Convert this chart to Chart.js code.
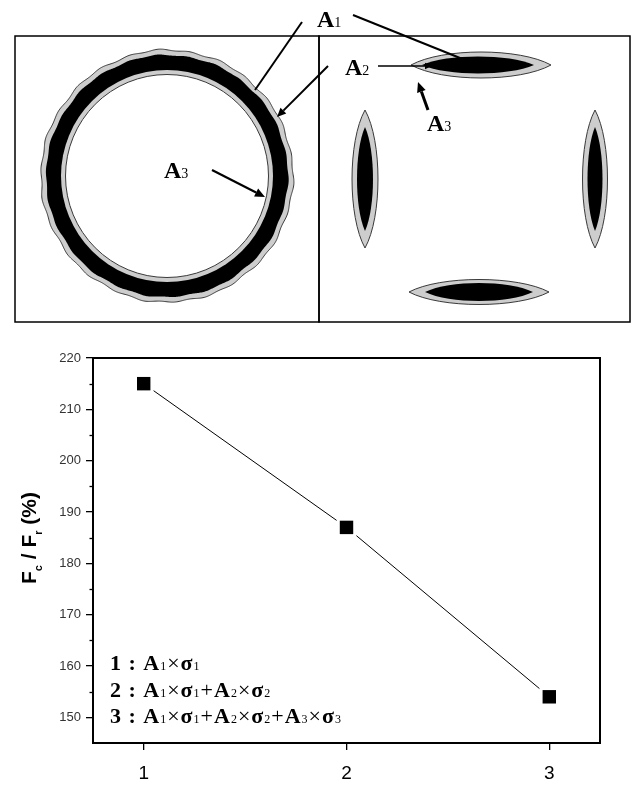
<!DOCTYPE html>
<html>
<head>
<meta charset="utf-8">
<script src="https://cdn.jsdelivr.net/npm/chart.js@4.4.1/dist/chart.umd.min.js"></script>
<style>
  html, body { margin: 0; padding: 0; background: #fff; }
  #wrap { position: relative; width: 633px; height: 785px; }
  #top { position: absolute; left: 0; top: 0; }
  #bottom { position: absolute; left: 0; top: 330px; }
</style>
</head>
<body>
<div id="wrap">
  <canvas id="top" width="633" height="330"></canvas>
  <canvas id="bottom" width="633" height="455"></canvas>
</div>
<script>
// ---------------- data ----------------
const categories = [1, 2, 3];
const ratioValues = [215, 187, 154];
const xTickValues = [1, 2, 3];
const yTickValues = [150, 160, 170, 180, 190, 200, 210, 220];
const yMinorTickValues = [155, 165, 175, 185, 195, 205, 215];
const legendRows = [
  ['1', [['A', '1', 'σ', '1']]],
  ['2', [['A', '1', 'σ', '1'], ['A', '2', 'σ', '2']]],
  ['3', [['A', '1', 'σ', '1'], ['A', '2', 'σ', '2'], ['A', '3', 'σ', '3']]]
];

const SERIF = '"Liberation Serif", "DejaVu Serif", serif';
const SANS = '"Liberation Sans", Arial, sans-serif';

// draw a sequence of text runs: [text, font, dy]
function drawRuns(ctx, runs, x, y) {
  let cx = x;
  for (const [t, f, dy] of runs) {
    ctx.font = f;
    ctx.fillText(t, cx, y + (dy || 0));
    cx += ctx.measureText(t).width;
  }
  return cx;
}
function runsWidth(ctx, runs) {
  let w = 0;
  for (const [t, f] of runs) { ctx.font = f; w += ctx.measureText(t).width; }
  return w;
}

// ---------------- top illustration ----------------
const illustrationPlugin = {
  id: 'illustration',
  beforeDatasetsDraw(chart) {
    const ctx = chart.ctx;
    const sx = chart.scales.x, sy = chart.scales.y;
    const X = v => sx.getPixelForValue(v);
    const Y = v => sy.getPixelForValue(v);
    const L = v => X(v) - X(0);
    const GRAY = '#cdcdcd', EDGE = '#3a3a3a';
    ctx.save();
    ctx.fillStyle = '#fff';
    ctx.fillRect(0, 0, chart.width, chart.height);

    // panels
    ctx.strokeStyle = '#000';
    ctx.lineWidth = 1.5;
    ctx.strokeRect(X(15), Y(36), L(304), L(286));
    ctx.strokeRect(X(319), Y(36), L(311), L(286));

    // ring
    const rcx = X(167), rcy = Y(176);
    function wavy(r0, amp, phase) {
      ctx.beginPath();
      for (let i = 0; i <= 720; i++) {
        const a = i / 720 * Math.PI * 2;
        const r = L(r0) + amp * Math.sin(a * 26 + phase) + amp * 0.6 * Math.sin(a * 11 + 1 + phase);
        const px = rcx + r * Math.cos(a), py = rcy + r * Math.sin(a);
        if (i === 0) ctx.moveTo(px, py); else ctx.lineTo(px, py);
      }
      ctx.closePath();
    }
    wavy(126, 0.7, 0);
    ctx.fillStyle = GRAY; ctx.fill();
    ctx.strokeStyle = EDGE; ctx.lineWidth = 1; ctx.stroke();
    wavy(121, 0.5, 0.4);
    ctx.fillStyle = '#000'; ctx.fill();
    ctx.beginPath(); ctx.arc(rcx, rcy, L(106), 0, Math.PI * 2);
    ctx.fillStyle = GRAY; ctx.fill();
    ctx.beginPath(); ctx.arc(rcx, rcy, L(101.5), 0, Math.PI * 2);
    ctx.fillStyle = '#fff'; ctx.fill();
    ctx.strokeStyle = EDGE; ctx.lineWidth = 1; ctx.stroke();

    // lens shapes
    function lens(cx, cy, a, b, horiz) {
      const k = 0.55, m = 1.333;
      ctx.beginPath();
      if (horiz) {
        ctx.moveTo(X(cx - a), Y(cy));
        ctx.bezierCurveTo(X(cx - a * k), Y(cy - b * m), X(cx + a * k), Y(cy - b * m), X(cx + a), Y(cy));
        ctx.bezierCurveTo(X(cx + a * k), Y(cy + b * m), X(cx - a * k), Y(cy + b * m), X(cx - a), Y(cy));
      } else {
        ctx.moveTo(X(cx), Y(cy - a));
        ctx.bezierCurveTo(X(cx + b * m), Y(cy - a * k), X(cx + b * m), Y(cy + a * k), X(cx), Y(cy + a));
        ctx.bezierCurveTo(X(cx - b * m), Y(cy + a * k), X(cx - b * m), Y(cy - a * k), X(cx), Y(cy - a));
      }
      ctx.closePath();
    }
    const lenses = [
      [481, 65, 70, 13, 478, 56, 8.5, true],
      [479, 292, 70, 12.5, 479, 54, 9, true],
      [365, 179, 69, 13, 365, 52, 8, false],
      [595, 179, 69, 12.5, 595, 52, 7.5, false]
    ];
    for (const [cx, cy, a, b, icx, ia, ib, h] of lenses) {
      lens(cx, cy, a, b, h);
      ctx.fillStyle = GRAY; ctx.fill();
      ctx.strokeStyle = EDGE; ctx.lineWidth = 1; ctx.stroke();
      lens(icx, cy, ia, ib, h);
      ctx.fillStyle = '#000'; ctx.fill();
    }

    // pointer lines and arrows
    function line(x1, y1, x2, y2, w) {
      ctx.beginPath(); ctx.moveTo(X(x1), Y(y1)); ctx.lineTo(X(x2), Y(y2));
      ctx.strokeStyle = '#000'; ctx.lineWidth = w; ctx.stroke();
    }
    function arrow(x1, y1, x2, y2, w, head) {
      const ang = Math.atan2(y2 - y1, x2 - x1);
      const bx = x2 - head * Math.cos(ang), by = y2 - head * Math.sin(ang);
      line(x1, y1, bx, by, w);
      ctx.beginPath();
      ctx.moveTo(X(x2), Y(y2));
      ctx.lineTo(X(bx + head * 0.45 * Math.sin(ang)), Y(by - head * 0.45 * Math.cos(ang)));
      ctx.lineTo(X(bx - head * 0.45 * Math.sin(ang)), Y(by + head * 0.45 * Math.cos(ang)));
      ctx.closePath(); ctx.fillStyle = '#000'; ctx.fill();
    }
    line(302, 22, 255, 90, 2);
    line(353, 15, 465, 60, 2);
    arrow(328, 66, 277, 117, 2, 9);
    arrow(378, 66, 432, 66, 1.6, 7);
    arrow(212, 170, 265, 197, 2.2, 10);
    arrow(428, 110, 418, 82, 3, 10);

    // labels
    ctx.fillStyle = '#000';
    ctx.textBaseline = 'alphabetic';
    ctx.textAlign = 'left';
    const big = 'bold 24px ' + SERIF, sub = '14px ' + SERIF;
    drawRuns(ctx, [['A', big], ['1', sub]], X(317), Y(27));
    drawRuns(ctx, [['A', big], ['2', sub]], X(345), Y(75));
    drawRuns(ctx, [['A', big], ['3', sub]], X(164), Y(178));
    drawRuns(ctx, [['A', big], ['3', sub]], X(427), Y(131));
    ctx.restore();
  }
};

new Chart(document.getElementById('top'), {
  type: 'scatter',
  data: { datasets: [] },
  options: {
    responsive: false, animation: false, events: [],
    layout: { padding: 0 },
    plugins: { legend: { display: false }, tooltip: { enabled: false } },
    scales: {
      x: { type: 'linear', min: 0, max: 633, display: false },
      y: { type: 'linear', min: 0, max: 330, reverse: true, display: false }
    }
  },
  plugins: [illustrationPlugin]
});

// ---------------- bottom chart ----------------
const points = categories.map((c, i) => ({ x: c, y: ratioValues[i] }));

const framePlugin = {
  id: 'frame',
  afterDraw(chart) {
    const ctx = chart.ctx, a = chart.chartArea;
    const ys = chart.scales.y;
    ctx.save();
    ctx.strokeStyle = '#000';
    ctx.lineWidth = 2;
    ctx.strokeRect(a.left, a.top, a.right - a.left, a.bottom - a.top);
    // minor ticks
    ctx.lineWidth = 1.3;
    for (const v of yMinorTickValues) {
      const py = Math.round(ys.getPixelForValue(v)) + 0.5;
      ctx.beginPath(); ctx.moveTo(a.left - 3.5, py); ctx.lineTo(a.left, py); ctx.stroke();
    }
    // y title with subscripts
    ctx.fillStyle = '#000';
    ctx.textBaseline = 'alphabetic';
    const fb = 'bold 21px ' + SANS, fs = 'bold 11px ' + SANS;
    const runs = [['F', fb], ['c', fs, 6], [' / ', fb], ['F', fb], ['r', fs, 6], [' (%)', fb]];
    const w = runsWidth(ctx, runs);
    ctx.translate(36, 208);
    ctx.rotate(-Math.PI / 2);
    drawRuns(ctx, runs, -w / 2, 0);
    ctx.restore();

    // formula legend
    ctx.save();
    ctx.fillStyle = '#000';
    ctx.textBaseline = 'alphabetic';
    try { ctx.letterSpacing = '1px'; } catch (e) {}
    const lb = 'bold 22px ' + SERIF, ls = '12px ' + SERIF, ln = '22px ' + SERIF, lsb = 'bold 22px ' + SERIF;
    const baselines = [340, 367, 393];
    legendRows.forEach(([num, terms], r) => {
      const runs = [[num + ' : ', lb]];
      terms.forEach((t, k) => {
        if (k > 0) runs.push(['+', ln]);
        runs.push([t[0], lsb], [t[1], ls], ['×', ln], [t[2], lsb], [t[3], ls]);
      });
      drawRuns(ctx, runs, 110, baselines[r]);
    });
    ctx.restore();
  }
};

new Chart(document.getElementById('bottom'), {
  type: 'scatter',
  data: {
    datasets: [
      { data: points, showLine: true, borderColor: '#000', borderWidth: 1, pointRadius: 0, order: 3 },
      { data: points, showLine: false, pointStyle: 'rect', pointRadius: 14, backgroundColor: '#fff', borderWidth: 0, order: 2 },
      { data: points, showLine: false, pointStyle: 'rect', pointRadius: 9.5, backgroundColor: '#000', borderWidth: 0, order: 1 }
    ]
  },
  options: {
    responsive: false, animation: false, events: [],
    layout: { padding: { top: 28, right: 33, left: 0, bottom: 0 } },
    plugins: { legend: { display: false }, tooltip: { enabled: false } },
    scales: {
      x: {
        type: 'linear', min: 0.75, max: 3.25,
        afterBuildTicks: s => { s.ticks = xTickValues.map(v => ({ value: v })); },
        afterFit: s => { s.height = 42; },
        border: { display: false },
        grid: { drawOnChartArea: false, drawTicks: true, tickLength: 7, color: '#000', lineWidth: 1.3 },
        ticks: { color: '#000', font: { family: SANS, size: 19 }, padding: 12, callback: v => String(v) }
      },
      y: {
        type: 'linear', min: 145, max: 220,
        afterBuildTicks: s => { s.ticks = yTickValues.map(v => ({ value: v })); },
        afterFit: s => { s.width = 93; },
        border: { display: false },
        grid: { drawOnChartArea: false, drawTicks: true, tickLength: 7, color: '#000', lineWidth: 1.3 },
        ticks: { color: '#333', font: { family: SANS, size: 13 }, padding: 5, callback: v => String(v) }
      }
    }
  },
  plugins: [framePlugin]
});
</script>
</body>
</html>
